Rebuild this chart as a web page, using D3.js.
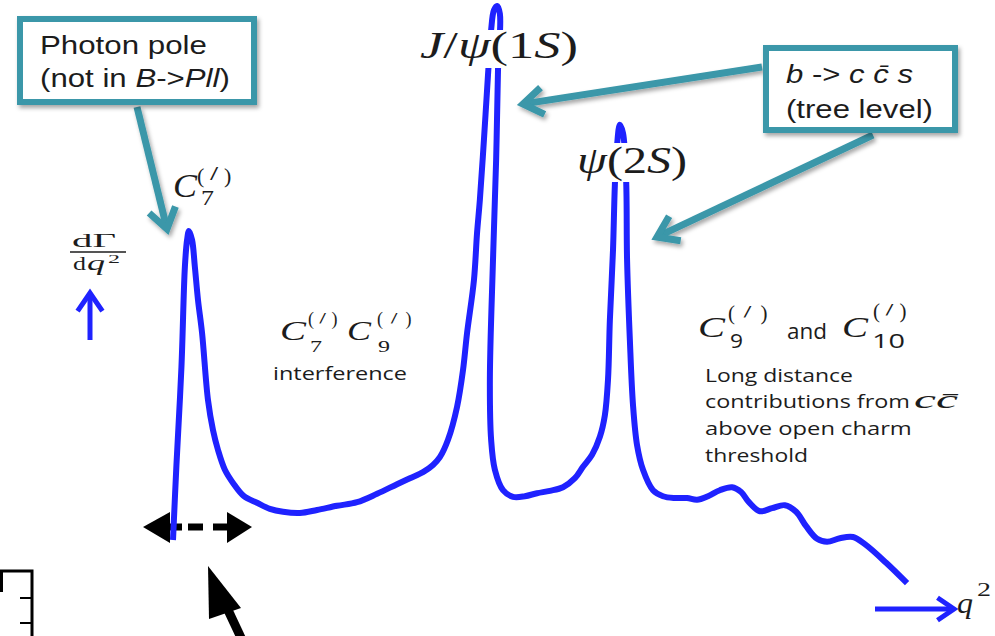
<!DOCTYPE html>
<html><head><meta charset="utf-8">
<script src="https://cdn.jsdelivr.net/npm/d3@7"></script>
<style>body{margin:0;background:#fff}svg{display:block}</style>
</head><body>
<script>
// Schematic dΓ/dq² spectrum (arbitrary units)
const q2Values = [0, 0.11, 0.27, 0.38, 0.45, 0.51, 0.61, 0.70, 0.80, 0.93, 1.12, 1.28, 1.44, 1.66, 1.92, 2.27, 2.69, 3.10, 3.52, 4.06, 4.61, 5.25, 5.89, 6.53, 7.17, 7.58, 8.00, 8.32, 8.54, 8.80, 9.09, 9.28, 9.41, 9.63, 9.73, 9.82, 9.95, 10.08, 10.18, 10.27, 10.37, 10.46, 10.40, 10.34, 10.24, 10.14, 10.18, 10.30, 10.56, 10.88, 11.26, 11.65, 12.06, 12.48, 12.86, 13.12, 13.41, 13.66, 13.82, 13.92, 13.98, 14.08, 14.14, 14.21, 14.30, 14.40, 14.50, 14.53, 14.62, 14.72, 14.85, 15.04, 15.36, 15.68, 16.06, 16.45, 16.77, 17.12, 17.50, 17.89, 18.18, 18.43, 18.78, 19.17, 19.58, 19.94, 20.26, 20.61, 20.93, 21.34, 21.76, 22.14, 22.82, 23.49];
const rateValues = [10, 22.5, 38.8, 55.5, 60, 61.5, 60, 55.5, 50, 44.5, 33.3, 28.3, 25, 21.7, 19.5, 17.3, 16.2, 15.2, 14.7, 14.5, 15, 15.7, 16.3, 17.7, 19.3, 20.3, 21.3, 22.5, 23.8, 26.7, 32.2, 38.3, 44.5, 53.3, 61.2, 66.7, 76.7, 87.5, 95, 98.3, 99, 97.7, 88.3, 73.3, 56.7, 36.7, 26.7, 21.7, 18.3, 17.2, 17.3, 17.8, 18.2, 18.8, 20.3, 22.2, 24.2, 27.2, 30.8, 36.7, 46.7, 58.3, 69.2, 75.8, 79.2, 77.8, 70, 56.7, 43.3, 32.5, 25.8, 21.7, 18.3, 17.3, 17, 17, 16.7, 17.3, 18.3, 18.8, 18, 16.3, 14.8, 15.3, 15.8, 14.7, 12.3, 10.2, 9.7, 10.3, 10.5, 9.3, 6.2, 2.8];

const W = 995, H = 636;
const BLUE = "#1f22ff", TEAL = "#3a97a9", INK = "#1c1c1c";
const SERIF = "'Liberation Serif','DejaVu Serif',serif";
const SANS = "'Liberation Sans',Arial,sans-serif";
const BODY = "'Open Sans','Noto Sans',sans-serif";

const svg = d3.select("body").append("svg").attr("width", W).attr("height", H);
svg.append("rect").attr("width", W).attr("height", H).attr("fill", "#fff");
const defs = svg.append("defs");
const f = defs.append("filter").attr("id", "sh").attr("x", "-20%").attr("y", "-20%").attr("width", "140%").attr("height", "140%");
f.append("feDropShadow").attr("dx", 2).attr("dy", 3).attr("stdDeviation", 2).attr("flood-color", "#000").attr("flood-opacity", 0.35);

const x = d3.scaleLinear().domain([0, 24]).range([173, 923]);
const y = d3.scaleLinear().domain([0, 100]).range([600, 0]);

function put(g, x0, y0, parts, opt) {
  const t = g.append("text")
    .attr("transform", `translate(${x0},${y0})`)
    .attr("font-family", opt.family)
    .attr("font-size", opt.size)
    .attr("fill", opt.fill || INK);
  (typeof parts === "string" ? [{t: parts}] : parts).forEach(p => {
    const s = t.append("tspan").text(p.t);
    if (p.i) s.attr("font-style", "italic");
    if (p.f) s.attr("font-family", p.f);
  });
  if (opt.w) {
    const bw = t.node().getComputedTextLength();
    t.attr("transform", `translate(${x0},${y0}) scale(${(opt.w / bw).toFixed(3)},1)`);
  }
  return t;
}

// one text element, pieces placed absolutely (math labels with super/subscripts)
function math(g, pieces) {
  const t = g.append("text").attr("fill", INK).attr("font-family", SERIF);
  pieces.forEach(p => {
    const s = t.append("tspan").attr("x", p.x).attr("y", p.y).attr("font-size", p.s).text(p.t);
    if (p.i) s.attr("font-style", "italic");
    if (p.b) s.attr("font-weight", "bold");
    if (p.f) s.attr("font-family", p.f);
    if (p.w) s.attr("textLength", p.w).attr("lengthAdjust", p.adj || "spacingAndGlyphs");
  });
  return t;
}
// "(′)" superscript made of three pieces; the prime is a small bold slash set high
function primeParen(x0, yb, w, s) {
  return [
    {t: "(", x: x0, y: yb, s: s},
    {t: "/", x: x0 + w / 2 - 0.14 * s, y: yb - 0.19 * s, s: s * 0.7, b: 1, i: 1, f: "'DejaVu Sans',sans-serif"},
    {t: ")", x: x0 + w - s * 0.36, y: yb, s: s}
  ];
}

function chevronArrow(g, x1, y1, x2, y2, color, width, L, a) {
  const ang = Math.atan2(y2 - y1, x2 - x1);
  g.append("line").attr("x1", x1).attr("y1", y1)
    .attr("x2", x2 - Math.cos(ang) * width * 0.6).attr("y2", y2 - Math.sin(ang) * width * 0.6)
    .attr("stroke", color).attr("stroke-width", width);
  const pts = [
    [x2 - L * Math.cos(ang - a), y2 - L * Math.sin(ang - a)],
    [x2, y2],
    [x2 - L * Math.cos(ang + a), y2 - L * Math.sin(ang + a)]
  ];
  g.append("path").attr("d", d3.line()(pts)).attr("fill", "none")
    .attr("stroke", color).attr("stroke-width", width).attr("stroke-linejoin", "miter");
}

// ---- black annotations (under the curve)
const blk = svg.append("g");
blk.append("line").attr("x1", 170).attr("x2", 227).attr("y1", 527).attr("y2", 527)
  .attr("stroke", "#000").attr("stroke-width", 7).attr("stroke-dasharray", "12,6,15,10,14");
blk.append("path").attr("d", "M170,512L143,527L170,543Z").attr("fill", "#000");
blk.append("path").attr("d", "M227,512L252,527L227,543Z").attr("fill", "#000");
blk.append("line").attr("x1", 228).attr("y1", 610).attr("x2", 243).attr("y2", 642).attr("stroke", "#000").attr("stroke-width", 9);
blk.append("path").attr("d", "M208,566L209,619L241,608Z").attr("fill", "#000");
blk.append("path").attr("d", "M0,571H32V636").attr("fill", "none").attr("stroke", "#000").attr("stroke-width", 3);
blk.append("path").attr("d", "M1.5,571V592").attr("fill", "none").attr("stroke", "#000").attr("stroke-width", 3);
blk.append("path").attr("d", "M20,598H32M20,623H32").attr("fill", "none").attr("stroke", "#000").attr("stroke-width", 2);

// ---- the curve
const pts = q2Values.map((q, i) => [q, rateValues[i]]);
svg.append("path").datum(pts)
  .attr("d", d3.line().x(d => x(d[0])).y(d => y(d[1])).curve(d3.curveCatmullRom.alpha(0.5)))
  .attr("fill", "none").attr("stroke", BLUE).attr("stroke-width", 6)
  .attr("stroke-linejoin", "round").attr("stroke-linecap", "butt");

// ---- axis arrows
const ax = svg.append("g");
chevronArrow(ax, 90, 340, 90, 293, BLUE, 5, 22, 0.6);
chevronArrow(ax, 875, 609, 954, 609, BLUE, 5, 20, 0.6);

// ---- resonance labels (white backdrop cuts the curve)
const lab = svg.append("g");
lab.append("rect").attr("x", 418).attr("y", 30).attr("width", 162).attr("height", 38).attr("fill", "#fff");
lab.append("rect").attr("x", 574).attr("y", 143).attr("width", 116).attr("height", 39).attr("fill", "#fff");
put(lab, 420, 58, [{t: "J", i: 1}, {t: "/"}, {t: "ψ", i: 1}, {t: "(1"}, {t: "S", i: 1}, {t: ")"}], {family: SERIF, size: 37, w: 158});
put(lab, 577, 173, [{t: "ψ", i: 1}, {t: "(2"}, {t: "S", i: 1}, {t: ")"}], {family: SERIF, size: 37, w: 110});

// C7(') near photon pole
math(lab, [
  {t: "C", x: 173, y: 197, s: 34, i: 1, w: 24},
  ...primeParen(197, 183, 35, 22),
  {t: "7", x: 201, y: 205, s: 21, w: 13}
]);

// dΓ/dq²
math(lab, [
  {t: "dΓ", x: 72, y: 247, s: 19, w: 44},
  {t: "d", x: 73, y: 270, s: 19, w: 13},
  {t: "q", x: 87, y: 270, s: 20, i: 1, w: 18},
  {t: "2", x: 108, y: 263, s: 13, w: 12}
]);
lab.append("line").attr("x1", 70).attr("x2", 126).attr("y1", 252).attr("y2", 252).attr("stroke", INK).attr("stroke-width", 1.5);

// C7 C9 interference
math(lab, [
  {t: "C", x: 280, y: 340, s: 27, i: 1, w: 26},
  ...primeParen(308, 325, 30, 18),
  {t: "7", x: 310, y: 352, s: 17, w: 12},
  {t: "C", x: 347, y: 340, s: 27, i: 1, w: 24},
  ...primeParen(377, 325, 35, 18),
  {t: "9", x: 378, y: 352, s: 17, w: 12}
]);
put(lab, 273, 380, "interference", {family: BODY, size: 18, w: 134});

// C9 and C10
math(lab, [
  {t: "C", x: 698, y: 337, s: 30, i: 1, w: 27},
  ...primeParen(728, 320, 40, 21),
  {t: "9", x: 730, y: 348, s: 20, f: BODY, w: 13},
  {t: "and", x: 787, y: 339, s: 21, f: BODY, w: 40},
  {t: "C", x: 842, y: 337, s: 30, i: 1, w: 26},
  ...primeParen(873, 318, 34, 21),
  {t: "10", x: 872, y: 348, s: 20, f: BODY, w: 33}
]);

put(lab, 705, 382, "Long distance", {family: BODY, size: 18, w: 148});
put(lab, 705, 408, "contributions from", {family: BODY, size: 18, w: 205});
put(lab, 914, 408, [{t: "cc\u0304", i: 1}], {family: SERIF, size: 26, w: 44});
put(lab, 705, 435, "above open charm", {family: BODY, size: 18, w: 207});
put(lab, 705, 462, "threshold", {family: BODY, size: 18, w: 103});

// q²
math(lab, [
  {t: "q", x: 957, y: 613, s: 30, i: 1, w: 16},
  {t: "2", x: 977, y: 596, s: 19, w: 14}
]);

// ---- teal callouts
const tl = svg.append("g").attr("filter", "url(#sh)");
chevronArrow(tl, 137, 107, 167, 229, TEAL, 7, 24, 0.6);
chevronArrow(tl, 762, 67, 523, 104, TEAL, 7, 24, 0.6);
chevronArrow(tl, 873, 135, 657, 237, TEAL, 7, 24, 0.6);

const boxes = svg.append("g");
boxes.append("rect").attr("x", 20).attr("y", 19).attr("width", 234).attr("height", 83)
  .attr("fill", "#fff").attr("stroke", TEAL).attr("stroke-width", 6).attr("filter", "url(#sh)");
boxes.append("rect").attr("x", 766).attr("y", 48).attr("width", 189).attr("height", 82)
  .attr("fill", "#fff").attr("stroke", TEAL).attr("stroke-width", 6).attr("filter", "url(#sh)");
put(boxes, 40, 54, "Photon pole", {family: SANS, size: 25, w: 167});
put(boxes, 40, 87, [{t: "(not in "}, {t: "B", i: 1}, {t: "->"}, {t: "Pll", i: 1}, {t: ")"}], {family: SANS, size: 25, w: 190});
put(boxes, 786, 83, [{t: "b", i: 1}, {t: " -> "}, {t: "c", i: 1}, {t: " "}, {t: "c\u0304", i: 1}, {t: " "}, {t: "s", i: 1}], {family: SANS, size: 25, w: 127});
put(boxes, 786, 118, "(tree level)", {family: SANS, size: 25, w: 147});
</script>
</body></html>
